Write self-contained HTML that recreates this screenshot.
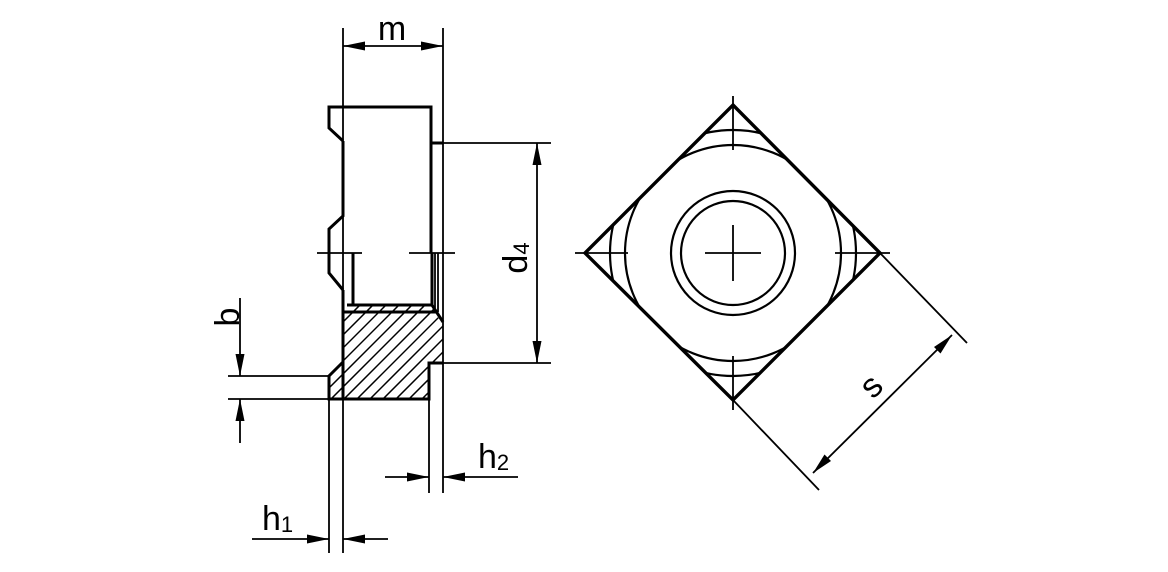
<!DOCTYPE html>
<html><head><meta charset="utf-8"><style>
html,body{margin:0;padding:0;background:#fff;}
svg{display:block;}
text{font-family:"Liberation Sans",sans-serif;fill:#000;}
</style></head><body>
<svg width="1168" height="572" viewBox="0 0 1168 572" xmlns="http://www.w3.org/2000/svg">
<defs>
<clipPath id="hc"><polygon points="343,312 432,312 443,322 443,363 429,363 429,399 343,399"/><polygon points="329,376 343,362 343,399 329,399"/><polygon points="347,305 432,305 437,312 343,312"/></clipPath>
<clipPath id="dc"><polygon points="733,105 880,253 733,400 585,253"/></clipPath>
</defs>
<g stroke="#000" fill="none" stroke-linecap="butt">
<g clip-path="url(#hc)" stroke-width="1.5">
<path d="M250,480 L450,280 M263,480 L463,280 M276,480 L476,280 M289,480 L489,280 M302,480 L502,280 M315,480 L515,280 M328,480 L528,280 M341,480 L541,280 M354,480 L554,280 M367,480 L567,280 M380,480 L580,280 M393,480 L593,280 M406,480 L606,280 M237,480 L437,280 M224,480 L424,280 M211,480 L411,280 M198,480 L398,280 M185,480 L385,280"/>
</g>
<g stroke-width="1.8">
<line x1="343" y1="28" x2="343" y2="553"/>
<line x1="443" y1="28" x2="443" y2="493"/>
<line x1="329" y1="399" x2="329" y2="553"/>
<line x1="429" y1="399" x2="429" y2="493"/>
<line x1="443" y1="143" x2="551" y2="143"/>
<line x1="443" y1="363" x2="551" y2="363"/>
<line x1="228" y1="376" x2="329" y2="376"/>
<line x1="228" y1="399" x2="329" y2="399"/>
<line x1="317" y1="253" x2="362" y2="253"/>
<line x1="409" y1="253" x2="455" y2="253"/>
<line x1="435" y1="253" x2="435" y2="308"/>
<line x1="438" y1="253" x2="438" y2="312"/>
<line x1="343" y1="46" x2="443" y2="46"/>
<line x1="537" y1="143" x2="537" y2="363"/>
<line x1="240" y1="298" x2="240" y2="376"/>
<line x1="240" y1="443" x2="240" y2="399"/>
<line x1="385" y1="477" x2="429" y2="477"/>
<line x1="518" y1="477" x2="443" y2="477"/>
<line x1="252" y1="539" x2="329" y2="539"/>
<line x1="388" y1="539" x2="343" y2="539"/>
</g>
<g stroke-width="3" stroke-linejoin="miter">
<polyline points="343,141 329,128 329,107 431,107 431,143 443,143"/>
<line x1="431" y1="143" x2="431" y2="253"/>
<polyline points="343,141 343,216 329,229 329,273 343,290"/>
<line x1="343" y1="290" x2="343" y2="399"/>
<line x1="353" y1="253" x2="353" y2="305"/>
<line x1="432" y1="253" x2="432" y2="305"/>
<polyline points="347,305 432,305 443,322"/>
<line x1="343" y1="312" x2="437" y2="312"/>
<polyline points="343,362 329,376 329,399 429,399 429,363 443,363"/>
</g>
<g stroke-width="2.2" clip-path="url(#dc)">
<circle cx="733" cy="253" r="108"/>
<circle cx="733" cy="253" r="123"/>
</g>
<polygon points="733,105 880,253 733,400 585,253" stroke-width="3.4" stroke-linejoin="miter"/>
<circle cx="733" cy="253" r="62" stroke-width="2.2"/>
<circle cx="733" cy="253" r="52" stroke-width="2.2"/>
<g stroke-width="1.8">
<line x1="705" y1="253" x2="761" y2="253"/>
<line x1="733" y1="225" x2="733" y2="281"/>
<line x1="733" y1="96" x2="733" y2="150"/>
<line x1="733" y1="356" x2="733" y2="410"/>
<line x1="575" y1="253" x2="628" y2="253"/>
<line x1="835" y1="253" x2="890" y2="253"/>
<line x1="880" y1="253" x2="967" y2="343"/>
<line x1="733" y1="400" x2="819" y2="490"/>
<line x1="813" y1="473" x2="952" y2="335"/>
</g>
</g>
<g fill="#000" stroke="none">
<polygon points="343,46 365,41.5 365,50.5"/>
<polygon points="443,46 421,41.5 421,50.5"/>
<polygon points="537,143 532.5,165 541.5,165"/>
<polygon points="537,363 532.5,341 541.5,341"/>
<polygon points="240,376 235.5,354 244.5,354"/>
<polygon points="240,399 235.5,421 244.5,421"/>
<polygon points="429,477 407,472.5 407,481.5"/>
<polygon points="443,477 465,472.5 465,481.5"/>
<polygon points="329,539 307,534.5 307,543.5"/>
<polygon points="343,539 365,534.5 365,543.5"/>
<polygon points="952,335 940.5,353.5 934,347"/>
<polygon points="813,473 824.5,454.5 831,461"/>
</g>
<text x="392" y="40" font-size="34" text-anchor="middle">m</text>
<text x="0" y="0" font-size="34" transform="translate(239,317) rotate(-90)" text-anchor="middle">b</text>
<text x="0" y="0" font-size="34" transform="translate(527,258) rotate(-90)" text-anchor="middle">d<tspan font-size="22" dy="2">4</tspan></text>
<text x="478" y="468" font-size="34">h<tspan font-size="22" dy="2">2</tspan></text>
<text x="262" y="530" font-size="34">h<tspan font-size="22" dy="2">1</tspan></text>
<text x="0" y="0" font-size="34" transform="translate(879,394) rotate(-45)" text-anchor="middle">s</text>
</svg>
</body></html>
